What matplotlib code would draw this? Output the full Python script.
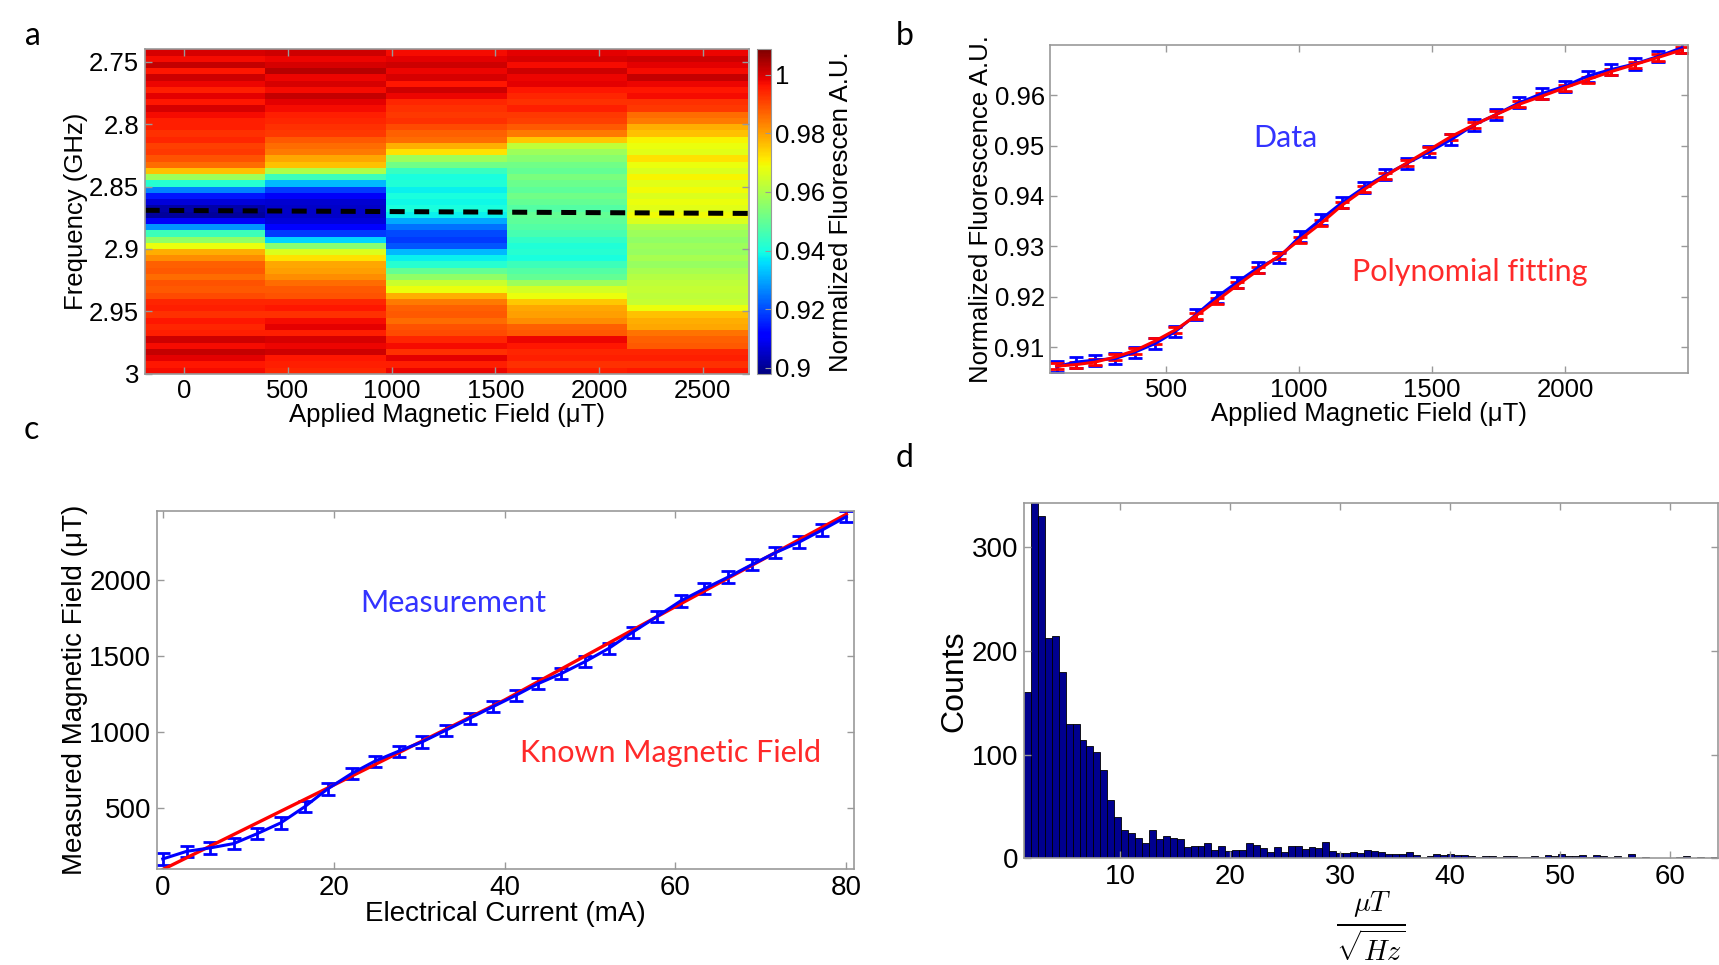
import numpy as np
import matplotlib
matplotlib.use('Agg')
import matplotlib.pyplot as plt

plt.rcParams['font.family'] = ['Liberation Sans', 'DejaVu Sans']

# ---------------- Panel a: fluorescence map ----------------
field_a = [100, 683, 1264, 1845, 2428]          # applied field (uT), column centres
freq_a = np.linspace(2.7425, 2.9975, 52)         # frequency grid (GHz)
col_a0 = [1.000, 0.997, 1.002, 0.996, 1.001, 0.998, 0.995, 0.999, 0.996, 1.000, 0.997, 0.995,
          0.995, 0.993, 0.994, 0.991, 0.992, 0.989, 0.986, 0.976, 0.958, 0.942, 0.926, 0.914,
          0.907, 0.902, 0.901, 0.910, 0.928, 0.945, 0.956, 0.968, 0.978, 0.982,
          0.987, 0.988, 0.986, 0.989, 0.988, 0.990, 0.994, 0.995, 0.993, 0.996, 0.994, 0.995,
          1.001, 0.997, 1.002, 0.999, 0.996, 0.997]
col_a1 = [1.001, 0.998, 1.000, 1.003, 0.998, 1.000, 0.997, 1.002, 0.999, 0.997, 0.995, 0.994,
          0.993, 0.992, 0.988, 0.986, 0.984, 0.979, 0.976, 0.960, 0.945, 0.932, 0.918, 0.910,
          0.906, 0.905, 0.905, 0.907, 0.912, 0.918, 0.935, 0.955, 0.966, 0.972,
          0.979, 0.980, 0.982, 0.986, 0.988, 0.989, 0.994, 0.996, 0.993, 0.997, 0.999, 0.995,
          1.000, 0.998, 1.001, 0.996, 0.995, 0.994]
col_a2 = [0.997, 0.999, 1.001, 0.998, 1.000, 0.996, 1.001, 0.998, 0.994, 0.993, 0.992, 0.993,
          0.990, 0.987, 0.986, 0.978, 0.972, 0.958, 0.952, 0.944, 0.940, 0.941, 0.938, 0.940,
          0.939, 0.940, 0.938, 0.930, 0.924, 0.920, 0.918, 0.921, 0.932, 0.938,
          0.942, 0.950, 0.956, 0.964, 0.968, 0.978, 0.984, 0.987, 0.988, 0.986, 0.989, 0.990,
          0.994, 0.997, 0.993, 0.999, 0.995, 0.998]
col_a3 = [0.999, 1.000, 0.997, 1.001, 0.998, 0.999, 0.996, 0.994, 0.993, 0.995, 0.992, 0.991,
          0.988, 0.984, 0.975, 0.962, 0.958, 0.955, 0.952, 0.950, 0.953, 0.951, 0.949, 0.952,
          0.950, 0.948, 0.950, 0.949, 0.948, 0.946, 0.943, 0.941, 0.942, 0.940,
          0.945, 0.948, 0.950, 0.958, 0.965, 0.968, 0.975, 0.979, 0.980, 0.982, 0.987, 0.988,
          0.998, 0.996, 0.994, 0.995, 0.993, 0.995]
col_a4 = [0.998, 1.001, 0.999, 0.997, 1.002, 0.998, 0.996, 0.997, 0.993, 0.992, 0.986, 0.984,
          0.978, 0.976, 0.970, 0.968, 0.967, 0.972, 0.968, 0.966, 0.970, 0.967, 0.969, 0.966,
          0.968, 0.967, 0.969, 0.966, 0.960, 0.958, 0.956, 0.958, 0.957, 0.959,
          0.957, 0.959, 0.961, 0.962, 0.963, 0.962, 0.963, 0.968, 0.976, 0.978, 0.979, 0.985,
          0.987, 0.988, 0.994, 0.995, 0.993, 0.996]
dash_field = [-190, 2722]
dash_freq = [2.869, 2.8715]

# ---------------- Panel b: fluorescence vs field ----------------
field_b = [89, 160, 233, 308, 383, 459, 535, 612, 690, 768, 847, 925, 1002, 1083, 1162,
           1244, 1324, 1406, 1489, 1571, 1656, 1741, 1826, 1911, 1999, 2084, 2172, 2260, 2348, 2437]
data_b = [0.9061, 0.9070, 0.9074, 0.9077, 0.9090, 0.9107, 0.9131, 0.9164, 0.9199, 0.9229,
          0.9258, 0.9278, 0.9319, 0.9354, 0.9387, 0.9417, 0.9442, 0.9465, 0.9488, 0.9512,
          0.9541, 0.9562, 0.9585, 0.9603, 0.9618, 0.9638, 0.9651, 0.9662, 0.9677, 0.9694]
fit_b = [0.9062, 0.9065, 0.9070, 0.9080, 0.9093, 0.9112, 0.9134, 0.9162, 0.9192, 0.9223,
         0.9253, 0.9281, 0.9313, 0.9346, 0.9382, 0.9413, 0.9440, 0.9466, 0.9492, 0.9518,
         0.9541, 0.9562, 0.9582, 0.9598, 0.9615, 0.9631, 0.9647, 0.9661, 0.9675, 0.9690]
err_data_b = 0.0011
err_fit_b = 0.0006

# ---------------- Panel c: measured vs known field ----------------
current_c = [0, 2.8, 5.5, 8.3, 11.0, 13.8, 16.6, 19.3, 22.1, 24.8, 27.6, 30.3, 33.1, 35.9, 38.6,
             41.3, 43.9, 46.6, 49.4, 52.2, 55.0, 57.8, 60.6, 63.4, 66.2, 69.0, 71.7, 74.5, 77.2, 80.0]
measured_c = [164, 214, 236, 265, 329, 401, 507, 625, 726, 807, 873, 933, 1010, 1089, 1165,
              1240, 1317, 1383, 1462, 1550, 1657, 1758, 1862, 1943, 2020, 2103, 2180, 2250, 2330, 2417]
err_c = 37
known_current = [0, 20, 40, 60, 80]
known_field = [94, 650, 1210, 1825, 2433]

# ---------------- Panel d: sensitivity histogram ----------------
hist_counts = [160, 350, 330, 212, 214, 179, 129, 129, 114, 108,
               102, 85, 56, 40, 27, 24, 20, 15, 27, 19,
               22, 20, 19, 11, 12, 12, 15, 8, 12, 7,
               8, 8, 15, 13, 10, 6, 11, 6, 12, 12,
               9, 11, 10, 16, 7, 5, 5, 6, 5, 8,
               7, 6, 4, 4, 4, 6, 3, 1, 2, 4,
               3, 4, 3, 3, 2, 1, 2, 2, 1, 2,
               2, 1, 1, 2, 1, 3, 2, 4, 2, 2,
               3, 1, 3, 2, 1, 2, 0, 4, 0, 1,
               0, 0, 0, 0, 1, 2, 0, 1, 0, 1]
hist_range = (1.25, 64.34)

# ---------------- Figure ----------------
W, H = 1719, 965
fig = plt.figure(figsize=(W / 100, H / 100), dpi=100)

FS_AB = 18.5
FS_CD = 20
SPINE_C = '0.6'
ANN_FS = 22


def style(ax, fs):
    ax.tick_params(direction='in', length=5, width=1, color=SPINE_C, labelsize=fs,
                   top=True, right=True, pad=4)
    for s in ax.spines.values():
        s.set_color(SPINE_C)
        s.set_linewidth(1.2)


def fx(px):
    return px / W


def fy(py):
    return 1 - py / H


# Panel a
ax_a = fig.add_axes([fx(144.7), fy(373.8), fx(748.8 - 144.7), (373.8 - 49.3) / H])
Z = np.array([col_a0, col_a1, col_a2, col_a3, col_a4]).T
mesh = ax_a.pcolormesh(field_a, freq_a, Z, cmap='jet', vmin=0.898, vmax=1.0086, shading='nearest')
ax_a.plot(dash_field, dash_freq, color='black', lw=3.6, linestyle=(0, (3.0, 1.9)))
ax_a.set_xlim(-190, 2722)
ax_a.set_ylim(3.0, 2.74)
ax_a.set_xticks([0, 500, 1000, 1500, 2000, 2500])
ax_a.set_yticks([2.75, 2.8, 2.85, 2.9, 2.95, 3.0])
ax_a.set_yticklabels(['2.75', '2.8', '2.85', '2.9', '2.95', '3'])
ax_a.set_xlabel('Applied Magnetic Field (μT)', fontsize=FS_AB, labelpad=0)
ax_a.set_ylabel('Frequency (GHz)', fontsize=FS_AB, labelpad=1)
style(ax_a, FS_AB)

cax = fig.add_axes([fx(756.5), fy(373.8), fx(14.2), (373.8 - 49.3) / H])
cb = fig.colorbar(mesh, cax=cax)
cb.set_ticks([0.9, 0.92, 0.94, 0.96, 0.98, 1.0])
cb.set_ticklabels(['0.9', '0.92', '0.94', '0.96', '0.98', '1'])
cb.ax.tick_params(direction='in', length=4, color=SPINE_C, labelsize=FS_AB, pad=3)
cb.outline.set_edgecolor(SPINE_C)
cb.set_label('Normalized Fluorescen A.U.', fontsize=FS_AB, labelpad=3)

# Panel b
ax_b = fig.add_axes([fx(1050.3), fy(372.7), fx(1688.3 - 1050.3), (372.7 - 44.9) / H])
ax_b.errorbar(field_b, data_b, yerr=err_data_b, color='#0000ff', lw=2.2, capsize=5, capthick=2,
              elinewidth=2)
ax_b.errorbar(field_b, fit_b, yerr=err_fit_b, color='#ff0000', lw=2.2, capsize=5, capthick=2,
              elinewidth=2)
ax_b.set_xlim(65, 2462)
ax_b.set_ylim(0.9049, 0.9700)
ax_b.set_xticks([500, 1000, 1500, 2000])
ax_b.set_yticks([0.91, 0.92, 0.93, 0.94, 0.95, 0.96])
ax_b.set_xlabel('Applied Magnetic Field (μT)', fontsize=FS_AB, labelpad=0)
ax_b.set_ylabel('Normalized Fluorescence A.U.', fontsize=FS_AB, labelpad=1)
ax_b.text(947, 0.9515, 'Data', color='#3333ff', fontsize=ANN_FS, family='Lato',
          ha='center', va='center')
ax_b.text(1642, 0.9249, 'Polynomial fitting', color='#ff2a2a', fontsize=ANN_FS, family='Lato',
          ha='center', va='center')
style(ax_b, FS_AB)

# Panel c
ax_c = fig.add_axes([fx(156.8), fy(869.4), fx(854 - 156.8), (869.4 - 510.9) / H])
ax_c.errorbar(current_c, measured_c, yerr=err_c, color='#0000ff', lw=2.2, capsize=5, capthick=2,
              elinewidth=2)
ax_c.plot(known_current, known_field, color='#ff0000', lw=2.4)
ax_c.set_xlim(-0.7, 80.9)
ax_c.set_ylim(95, 2455)
ax_c.set_xticks([0, 20, 40, 60, 80])
ax_c.set_yticks([500, 1000, 1500, 2000])
ax_c.set_xlabel('Electrical Current (mA)', fontsize=FS_CD, labelpad=0)
ax_c.set_ylabel('Measured Magnetic Field (μT)', fontsize=FS_CD, labelpad=1)
ax_c.text(34.0, 1849, 'Measurement', color='#3333ff', fontsize=ANN_FS, family='Lato',
          ha='center', va='center')
ax_c.text(59.4, 861, 'Known Magnetic Field', color='#ff2a2a', fontsize=ANN_FS, family='Lato',
          ha='center', va='center')
style(ax_c, FS_CD)

# Panel d
ax_d = fig.add_axes([fx(1024), fy(858.4), fx(1718 - 1024), (858.4 - 503.2) / H])
edges = np.linspace(hist_range[0], hist_range[1], len(hist_counts) + 1)
ax_d.bar(edges[:-1], hist_counts, width=np.diff(edges), align='edge', color='#00008f',
         edgecolor='black', linewidth=0.6)
ax_d.set_xlim(hist_range)
ax_d.set_ylim(0, 342)
ax_d.set_xticks([10, 20, 30, 40, 50, 60])
ax_d.set_yticks([0, 100, 200, 300])
ax_d.set_ylabel('Counts', fontsize=23, labelpad=2)
ax_d.set_xlabel(r'$\frac{\mu T}{\sqrt{Hz}}$', fontsize=29, labelpad=0, math_fontfamily='cm')
style(ax_d, FS_CD)

# Panel letters
for letter, (px, py) in {'a': (33, 36), 'b': (905, 36), 'c': (31, 430), 'd': (905, 458)}.items():
    fig.text(fx(px), fy(py), letter, fontsize=23, family='Lato', ha='center', va='center')

fig.savefig('out.png', dpi=100)
